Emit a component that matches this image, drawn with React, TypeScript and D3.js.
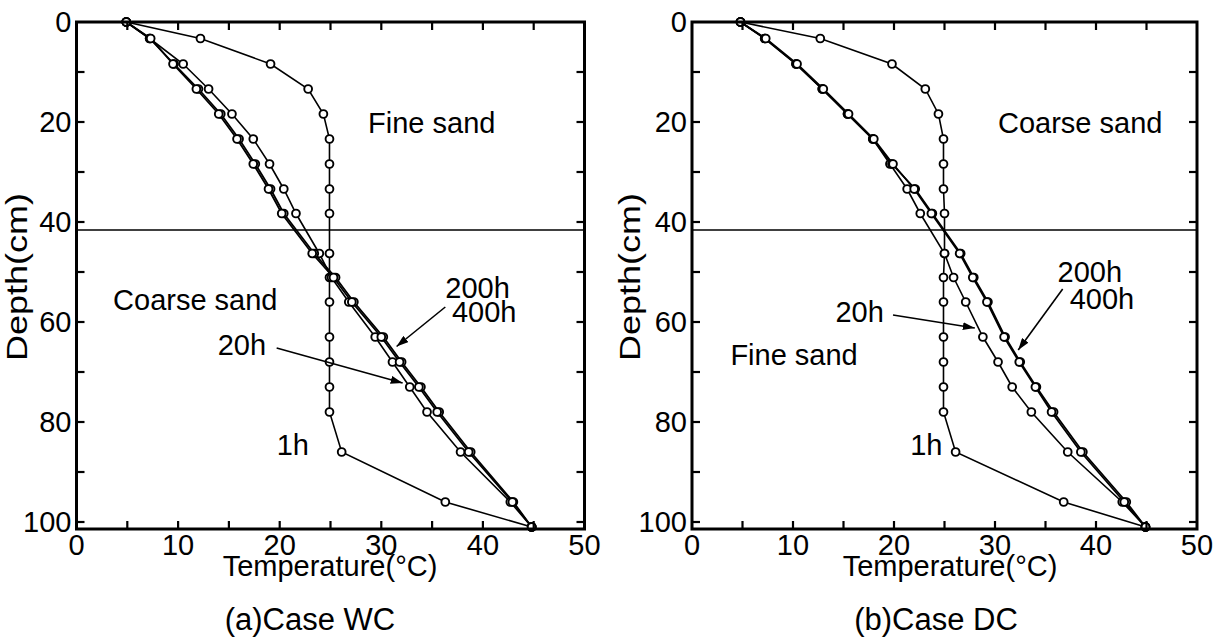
import React from "react";
import * as d3 from "d3";

// Measurement depths (cm)
const depths = [0, 3.3, 8.4, 13.4, 18.4, 23.4, 28.4, 33.4, 38.3, 46.3, 51.1, 56, 63, 68, 73, 78, 86, 96, 101];

// Case WC: temperatures (°C) at each depth
const wc1h = [4.9, 12.2, 19.1, 22.8, 24.3, 24.9, 24.9, 24.9, 24.9, 24.9, 24.9, 24.9, 24.9, 24.9, 24.9, 24.9, 26.1, 36.3, 44.8];
const wc20h = [4.9, 7.2, 10.5, 13.0, 15.3, 17.4, 19.0, 20.4, 21.6, 23.9, 25.1, 26.8, 29.4, 31.1, 32.8, 34.5, 37.8, 42.7, 44.8];
const wc200h = [4.9, 7.2, 9.6, 12.0, 14.2, 16.0, 17.6, 19.1, 20.4, 23.4, 25.5, 27.3, 30.2, 32.0, 33.9, 35.7, 38.8, 43.0, 44.8];
const wc400h = [4.9, 7.3, 9.5, 11.8, 14.0, 15.8, 17.4, 18.9, 20.2, 23.2, 25.3, 27.1, 30.0, 31.8, 33.7, 35.5, 38.6, 42.9, 44.8];

// Case DC: temperatures (°C) at each depth
const dc1h = [4.8, 12.7, 19.8, 23.1, 24.4, 24.9, 24.9, 24.9, 25.0, 25.0, 24.9, 24.9, 24.9, 24.9, 24.9, 24.9, 26.1, 36.8, 44.9];
const dc20h = [4.8, 7.2, 10.3, 12.9, 15.4, 17.9, 19.6, 21.3, 22.6, 25.0, 25.9, 27.1, 28.8, 30.3, 31.7, 33.6, 37.2, 42.6, 44.9];
const dc200h = [4.8, 7.2, 10.3, 12.9, 15.4, 17.9, 19.8, 22.1, 23.8, 26.6, 27.9, 29.3, 31.0, 32.5, 34.1, 35.8, 38.7, 43.0, 44.9];
const dc400h = [4.8, 7.3, 10.4, 13.0, 15.5, 18.0, 19.9, 22.0, 23.7, 26.5, 27.8, 29.2, 30.9, 32.4, 34.0, 35.6, 38.5, 42.8, 44.9];

// Boundary between the two sand layers (cm)
const layerBoundary = 41.6;

// Axis ticks
const xTickLabels = [0, 10, 20, 30, 40, 50];
const xMinorTicks = [5, 10, 15, 20, 25, 30, 35, 40, 45];
const yTickLabels = [0, 20, 40, 60, 80, 100];
const yMinorTicks = [10, 20, 30, 40, 50, 60, 70, 80, 90, 100];
const depthMax = 101.4;

const FONT = "'Liberation Sans', Arial, Helvetica, sans-serif";

type Note = { text: string; t: number; d: number };
type Arrow = { t1: number; d1: number; t2: number; d2: number };

type PanelProps = {
  x0: number;
  x1: number;
  id: string;
  curves: { name: string; values: number[]; width: number }[];
  notes: Note[];
  arrows: Arrow[];
  caption: string;
  captionX: number;
  titleX: number;
  yTitleX: number;
};

function Panel({ x0, x1, id, curves, notes, arrows, caption, captionX, titleX, yTitleX }: PanelProps) {
  const x = d3.scaleLinear().domain([0, 50]).range([x0, x1]);
  const y = d3.scaleLinear().domain([0, 100]).range([22, 522]);
  const line = d3
    .line<[number, number]>()
    .x((p) => x(p[0]))
    .y((p) => y(p[1]));
  const top = y(0);
  const bottom = y(depthMax);
  const tick = 8;

  return (
    <g>
      <defs>
        <marker
          id={`arrow-${id}`}
          markerUnits="userSpaceOnUse"
          markerWidth={12}
          markerHeight={8}
          refX={12}
          refY={4}
          orient="auto"
        >
          <path d="M0,0 L12,4 L0,8 Z" fill="#000" />
        </marker>
      </defs>

      {/* layer boundary */}
      <line x1={x(0)} x2={x(50)} y1={y(layerBoundary)} y2={y(layerBoundary)} stroke="#000" strokeWidth={1.7} />

      {/* curves */}
      {curves.map((c) => (
        <path
          key={c.name}
          d={line(c.values.map((v, i) => [v, depths[i]] as [number, number])) || ""}
          fill="none"
          stroke="#000"
          strokeWidth={c.width}
        />
      ))}
      {curves.map((c) =>
        c.values.map((v, i) => (
          <circle
            key={`${c.name}-${i}`}
            cx={x(v)}
            cy={y(depths[i])}
            r={3.9}
            fill="#fff"
            stroke="#000"
            strokeWidth={1.9}
          />
        ))
      )}

      {/* frame */}
      <rect x={x(0)} y={top} width={x(50) - x(0)} height={bottom - top} fill="none" stroke="#000" strokeWidth={3} />

      {/* ticks */}
      {xMinorTicks.map((t) => (
        <g key={`xt-${t}`}>
          <line x1={x(t)} x2={x(t)} y1={top} y2={top + tick} stroke="#000" strokeWidth={2.2} />
          <line x1={x(t)} x2={x(t)} y1={bottom} y2={bottom - tick} stroke="#000" strokeWidth={2.2} />
        </g>
      ))}
      {yMinorTicks.map((t) => (
        <g key={`yt-${t}`}>
          <line x1={x(0)} x2={x(0) + tick} y1={y(t)} y2={y(t)} stroke="#000" strokeWidth={2.2} />
          <line x1={x(50)} x2={x(50) - tick} y1={y(t)} y2={y(t)} stroke="#000" strokeWidth={2.2} />
        </g>
      ))}

      {/* tick labels */}
      {xTickLabels.map((t) => (
        <text key={`xl-${t}`} x={x(t)} y={555} textAnchor="middle" fontSize={29} fontFamily={FONT}>
          {t}
        </text>
      ))}
      {yTickLabels.map((t) => (
        <text
          key={`yl-${t}`}
          x={x(0) - 5}
          y={y(t) + 10}
          textAnchor="end"
          fontSize={29}
          fontFamily={FONT}
        >
          {t}
        </text>
      ))}

      {/* axis titles */}
      <text x={titleX} y={576} textAnchor="middle" fontSize={29} fontFamily={FONT}>
        Temperature(°C)
      </text>
      <text
        transform={`translate(${yTitleX},${y(51)}) rotate(-90)`}
        textAnchor="middle"
        fontSize={30}
        fontFamily={FONT}
        textLength={168}
        lengthAdjust="spacingAndGlyphs"
      >
        Depth(cm)
      </text>
      <text x={captionX} y={630} textAnchor="middle" fontSize={31} fontFamily={FONT}>
        {caption}
      </text>

      {/* annotations */}
      {notes.map((n) => (
        <text key={n.text} x={x(n.t)} y={y(n.d)} fontSize={29} fontFamily={FONT}>
          {n.text}
        </text>
      ))}
      {arrows.map((a, i) => (
        <line
          key={`ar-${i}`}
          x1={x(a.t1)}
          y1={y(a.d1)}
          x2={x(a.t2)}
          y2={y(a.d2)}
          stroke="#000"
          strokeWidth={1.6}
          markerEnd={`url(#arrow-${id})`}
        />
      ))}
    </g>
  );
}

export default function App() {
  return (
    <svg
      width={1219}
      height={639}
      viewBox="0 0 1219 639"
      style={{ position: "absolute", left: 0, top: 0, background: "#fff" }}
    >
      <rect width={1219} height={639} fill="#fff" />
      <Panel
        id="wc"
        x0={76.5}
        x1={584.5}
        curves={[
          { name: "1h", values: wc1h, width: 1.6 },
          { name: "20h", values: wc20h, width: 1.6 },
          { name: "200h", values: wc200h, width: 1.8 },
          { name: "400h", values: wc400h, width: 1.8 },
        ]}
        notes={[
          { text: "Fine sand", t: 28.7, d: 22.2 },
          { text: "Coarse sand", t: 3.6, d: 57.6 },
          { text: "200h", t: 36.3, d: 55.2 },
          { text: "400h", t: 36.95, d: 60 },
          { text: "20h", t: 13.9, d: 66.6 },
          { text: "1h", t: 19.7, d: 86.6 },
        ]}
        arrows={[
          { t1: 36.3, d1: 57, t2: 31.5, d2: 64.9 },
          { t1: 19.7, d1: 65.2, t2: 32.1, d2: 72.2 },
        ]}
        caption="(a)Case WC"
        captionX={310}
        titleX={330}
        yTitleX={27}
      />
      <Panel
        id="dc"
        x0={692}
        x1={1197}
        curves={[
          { name: "1h", values: dc1h, width: 1.6 },
          { name: "20h", values: dc20h, width: 1.6 },
          { name: "200h", values: dc200h, width: 1.8 },
          { name: "400h", values: dc400h, width: 1.8 },
        ]}
        notes={[
          { text: "Coarse sand", t: 30.3, d: 22.2 },
          { text: "Fine sand", t: 3.8, d: 68.6 },
          { text: "200h", t: 36.2, d: 52 },
          { text: "400h", t: 37.4, d: 57.4 },
          { text: "20h", t: 14.2, d: 60 },
          { text: "1h", t: 21.6, d: 86.6 },
        ]}
        arrows={[
          { t1: 36.7, d1: 53.4, t2: 32.3, d2: 65.6 },
          { t1: 19.9, d1: 58.6, t2: 28.0, d2: 61.2 },
        ]}
        caption="(b)Case DC"
        captionX={936}
        titleX={950}
        yTitleX={640}
      />
    </svg>
  );
}
